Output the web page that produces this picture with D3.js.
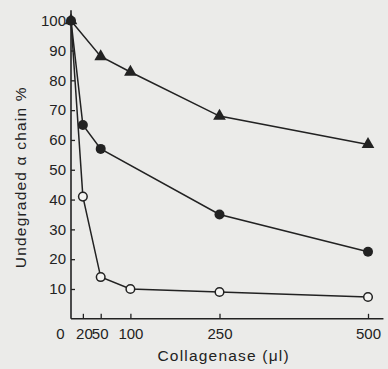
<!DOCTYPE html>
<html>
<head>
<meta charset="utf-8">
<script src="https://cdn.jsdelivr.net/npm/d3@7"></script>
<style>
  body { margin: 0; background: #ebebe9; }
  svg { display: block; }
  .tick text { font-family: "Liberation Sans", Arial, sans-serif; font-size: 15px; fill: #222; }
  .lbl { font-family: "Liberation Sans", Arial, sans-serif; font-size: 15.5px; fill: #222; letter-spacing: 1.2px; }
</style>
</head>
<body>
<div id="chart"></div>
<script>
"use strict";

// collagenase amounts (ul)
var doses = [0, 20, 50, 100, 250, 500];
var xTicks = [0, 20, 50, 100, 250, 500];
var yTicks = [10, 20, 30, 40, 50, 60, 70, 80, 90, 100];

// undegraded alpha chain %, three series
var triangleSeries = [[0, 100], [50, 88], [100, 82.8], [250, 68], [500, 58.5]];
var filledSeries = [[0, 100], [20, 65], [50, 57], [250, 35], [500, 22.5]];
var openSeries = [[0, 100], [20, 41], [50, 14], [100, 10], [250, 9], [500, 7.3]];

function renderMyChart() {
    var svg = d3.select("#chart").append("svg")
        .attr("width", 388)
        .attr("height", 369);

    var x = d3.scaleLinear().domain([0, 500]).range([71, 368]),
        y = d3.scaleLinear().domain([0, 100]).range([318.8, 20.7]);

    var ink = "#222";

    // x axis, ticks pointing inward
    var gx = svg.append("g")
        .attr("transform", "translate(0," + y(0) + ")")
        .call(d3.axisBottom(x).tickValues(xTicks).tickSize(-5).tickPadding(9)
            .tickFormat(d3.format("d")));
    gx.select(".domain").remove();
    gx.selectAll(".tick line").attr("stroke", ink).attr("stroke-width", 1.3);
    gx.selectAll(".tick text").attr("dy", "0.75em")
        .attr("dx", function (d) { return d === 0 ? -11 : d === 20 ? 1 : d === 50 ? -1 : 0; });
    gx.selectAll(".tick").filter(function (d) { return d === 0; }).select("line").remove();

    // y axis
    var gy = svg.append("g")
        .attr("transform", "translate(" + x(0) + ",0)")
        .call(d3.axisLeft(y).tickValues(yTicks).tickSize(-4).tickPadding(5));
    gy.select(".domain").remove();
    gy.selectAll(".tick line").attr("stroke", ink).attr("stroke-width", 1.3);

    // axis lines
    svg.append("line")
        .attr("x1", x(0)).attr("x2", x(526))
        .attr("y1", y(0)).attr("y2", y(0))
        .attr("stroke", ink).attr("stroke-width", 1.6);
    svg.append("line")
        .attr("x1", x(0)).attr("x2", x(0))
        .attr("y1", y(0)).attr("y2", y(103.5))
        .attr("stroke", ink).attr("stroke-width", 1.6);

    // axis titles
    svg.append("text").attr("class", "lbl")
        .attr("x", x(257)).attr("y", 361)
        .attr("text-anchor", "middle")
        .text("Collagenase (\u03bcl)");
    svg.append("text").attr("class", "lbl")
        .attr("transform", "translate(26," + y(47.5) + ") rotate(-90)")
        .attr("text-anchor", "middle")
        .text("Undegraded \u03b1 chain %");

    var line = d3.line()
        .x(function (d) { return x(d[0]); })
        .y(function (d) { return y(d[1]); });

    [triangleSeries, filledSeries, openSeries].forEach(function (s) {
        svg.append("path").datum(s)
            .attr("d", line)
            .attr("fill", "none")
            .attr("stroke", ink)
            .attr("stroke-width", 1.5);
    });

    // markers
    svg.selectAll(".tri").data(triangleSeries).enter().append("path")
        .attr("class", "tri")
        .attr("transform", function (d) { return "translate(" + x(d[0]) + "," + y(d[1]) + ")"; })
        .attr("d", d3.symbol().type(d3.symbolTriangle).size(70))
        .attr("fill", ink);

    svg.selectAll(".dot").data(filledSeries).enter().append("circle")
        .attr("class", "dot")
        .attr("cx", function (d) { return x(d[0]); })
        .attr("cy", function (d) { return y(d[1]); })
        .attr("r", 5)
        .attr("fill", ink);

    svg.selectAll(".ring").data(openSeries.slice(1)).enter().append("circle")
        .attr("class", "ring")
        .attr("cx", function (d) { return x(d[0]); })
        .attr("cy", function (d) { return y(d[1]); })
        .attr("r", 4.3)
        .attr("fill", "#f4f4f2")
        .attr("stroke", ink)
        .attr("stroke-width", 1.5);
}

renderMyChart();
</script>
</body>
</html>
